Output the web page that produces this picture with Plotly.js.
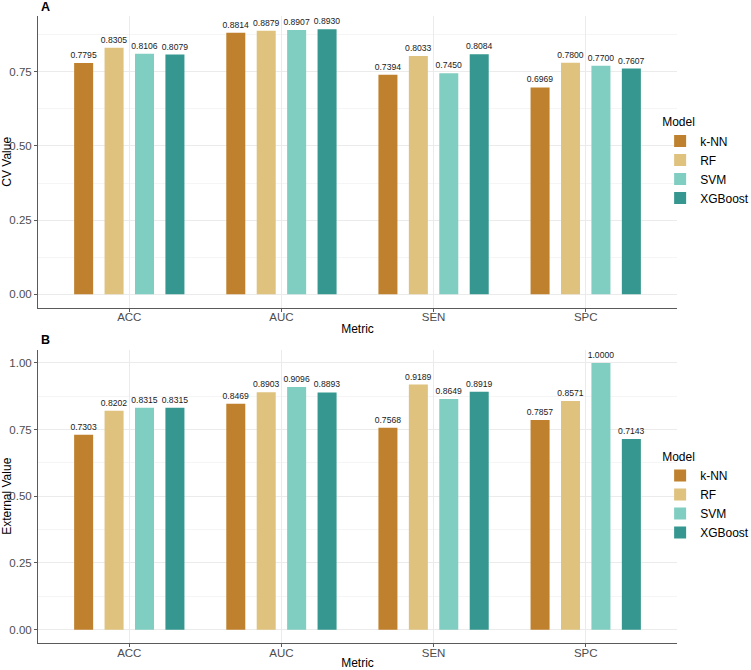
<!DOCTYPE html>
<html>
<head>
<meta charset="utf-8">
<script src="https://cdn.plot.ly/plotly-3.0.1.min.js"></script>
<style>html,body{margin:0;padding:0;background:#fff;} #chart{width:751px;height:670px;}</style>
</head>
<body>
<div id="chart"></div>
<script>
// ---- data ----
const metrics = ['ACC', 'AUC', 'SEN', 'SPC'];
const models = ['k-NN', 'RF', 'SVM', 'XGBoost'];

const cvKNN = [0.7795, 0.8814, 0.7394, 0.6969];
const cvRF  = [0.8305, 0.8879, 0.8033, 0.7800];
const cvSVM = [0.8106, 0.8907, 0.7450, 0.7700];
const cvXGB = [0.8079, 0.8930, 0.8084, 0.7607];

const extKNN = [0.7303, 0.8469, 0.7568, 0.7857];
const extRF  = [0.8202, 0.8903, 0.9189, 0.8571];
const extSVM = [0.8315, 0.9096, 0.8649, 1.0000];
const extXGB = [0.8315, 0.8893, 0.8919, 0.7143];

const yTicks = [0, 0.25, 0.5, 0.75, 1.0];

// ---- style ----
const colors = ['#BF812D', '#DFC27D', '#80CDC1', '#35978F'];
const FONT = 'Liberation Sans, Arial, Helvetica, sans-serif';

const cvSeries = [cvKNN, cvRF, cvSVM, cvXGB];
const extSeries = [extKNN, extRF, extSVM, extXGB];

function makeTrace(vals, i, xa, ya, leg) {
  return {
    type: 'bar',
    x: metrics,
    y: vals,
    name: models[i],
    xaxis: xa,
    yaxis: ya,
    legend: leg,
    marker: {color: colors[i], line: {width: 0}},
    texttemplate: '%{y:.4f}',
    textposition: 'outside',
    textfont: {family: FONT, size: 8.6, color: '#1a1a1a'},
    constraintext: 'none',
    cliponaxis: false,
    hoverinfo: 'x+y+name'
  };
}

const traces = [];
cvSeries.forEach((v, i) => traces.push(makeTrace(v, i, 'x', 'y', 'legend')));
extSeries.forEach((v, i) => traces.push(makeTrace(v, i, 'x2', 'y2', 'legend2')));

const gridCol = '#ebebeb';
const minorCol = '#f5f5f5';
const axLineCol = '#5a5a5a';
const tickFont = {family: FONT, size: 11.5, color: '#4d4d4d'};
const titleFont = {family: FONT, size: 12, color: '#000'};

function xAxis(anchor, standoff) {
  return {
    anchor: anchor,
    domain: [0, 1],
    type: 'category',
    range: [-0.6, 3.6],
    showgrid: true,
    gridcolor: gridCol,
    gridwidth: 1,
    showline: true,
    linecolor: axLineCol,
    linewidth: 1,
    ticks: 'outside',
    ticklen: 3,
    tickcolor: axLineCol,
    tickfont: tickFont,
    ticklabelstandoff: -4,
    automargin: false,
    title: {text: 'Metric', font: titleFont, standoff: standoff},
    zeroline: false,
    fixedrange: true
  };
}

function yAxis(anchor, domain, range, title) {
  return {
    anchor: anchor,
    domain: domain,
    range: range,
    tickvals: yTicks,
    ticktext: yTicks.map(v => v.toFixed(2)),
    showgrid: true,
    gridcolor: gridCol,
    gridwidth: 1,
    minor: {dtick: 0.125, tick0: 0.125, showgrid: true, gridcolor: minorCol, gridwidth: 1},
    showline: true,
    linecolor: axLineCol,
    linewidth: 1,
    ticks: 'outside',
    ticklen: 3,
    tickcolor: axLineCol,
    tickfont: tickFont,
    automargin: false,
    title: {text: title, font: titleFont, standoff: 3},
    zeroline: false,
    fixedrange: true
  };
}

function legendCfg(y) {
  return {
    xref: 'container',
    x: 0.879,
    xanchor: 'left',
    yref: 'paper',
    y: y,
    yanchor: 'middle',
    title: {text: 'Model', font: {family: FONT, size: 12, color: '#000'}},
    font: {family: FONT, size: 12, color: '#000'},
    bgcolor: 'rgba(0,0,0,0)',
    borderwidth: 0,
    tracegroupgap: 0,
    itemclick: false,
    itemdoubleclick: false
  };
}

const layout = {
  width: 751,
  height: 670,
  margin: {l: 38, r: 74, t: 16, b: 27, autoexpand: false},
  paper_bgcolor: '#fff',
  plot_bgcolor: '#fff',
  font: {family: FONT, color: '#000'},
  barmode: 'group',
  bargap: 0.2,
  bargroupgap: 0.375,
  xaxis: xAxis('y', 2),
  yaxis: yAxis('x', [0.535, 1], [-0.04465, 0.93765], 'CV Value'),
  xaxis2: xAxis('y2', 6),
  yaxis2: yAxis('x2', [0, 0.468], [-0.05, 1.05], 'External Value'),
  legend: legendCfg(0.7675),
  legend2: legendCfg(0.234),
  showlegend: true,
  annotations: [
    {text: '<b>A</b>', xref: 'paper', yref: 'paper', x: 0.001, y: 1.0143, xanchor: 'left', yanchor: 'middle',
     showarrow: false, font: {family: FONT, size: 12.5, color: '#000'}},
    {text: '<b>B</b>', xref: 'paper', yref: 'paper', x: 0.001, y: 0.4825, xanchor: 'left', yanchor: 'middle',
     showarrow: false, font: {family: FONT, size: 12.5, color: '#000'}}
  ]
};

Plotly.newPlot('chart', traces, layout, {displayModeBar: false, staticPlot: true});
</script>
</body>
</html>
